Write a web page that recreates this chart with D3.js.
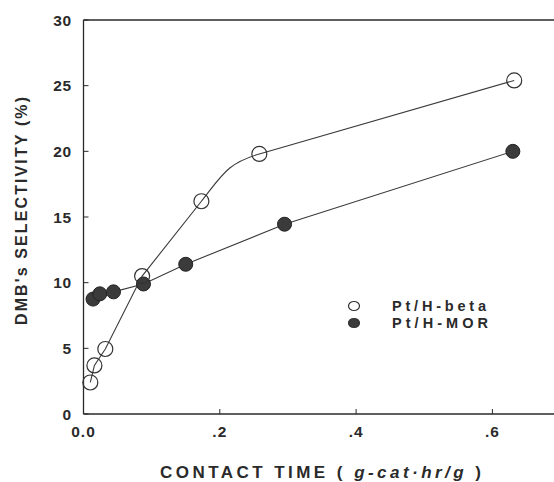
<!DOCTYPE html>
<html>
<head>
<meta charset="utf-8">
<script src="https://cdn.jsdelivr.net/npm/d3@7"></script>
<style>
  body { margin: 0; background: #fff; }
  svg { display: block; font-family: "Liberation Sans", Arial, sans-serif; }
</style>
</head>
<body>
<div id="chart"></div>
<script>
// Data
const betaTime = [0.010, 0.016, 0.032, 0.086, 0.173, 0.258, 0.632];
const betaSel  = [2.4, 3.7, 4.95, 10.5, 16.2, 19.8, 25.4];
const morTime  = [0.014, 0.024, 0.044, 0.088, 0.150, 0.295, 0.630];
const morSel   = [8.75, 9.15, 9.3, 9.9, 11.4, 14.45, 20.0];
const xTicks = [0, 0.2, 0.4, 0.6];
const xTickLabels = ['0.0', '.2', '.4', '.6'];
const yTicks = [0, 5, 10, 15, 20, 25, 30];
const seriesNames = ['Pt/H-beta', 'Pt/H-MOR'];

const width = 554, height = 482;
const margin = { top: 20, left: 83.5, bottom: 68 };

const svg = d3.select('#chart').append('svg')
    .attr('width', width)
    .attr('height', height);

const x = d3.scaleLinear().domain([0, 0.7]).range([margin.left, margin.left + 0.7 * 681.5]);
const y = d3.scaleLinear().domain([0, 30]).range([height - margin.bottom, margin.top]);

const ink = '#2a2a2a';

// frame: left, bottom, top
svg.append('line').attr('x1', x(0)).attr('x2', x(0)).attr('y1', y(0)).attr('y2', y(30))
    .attr('stroke', ink).attr('stroke-width', 1.3);
svg.append('line').attr('x1', x(0)).attr('x2', width).attr('y1', y(0)).attr('y2', y(0))
    .attr('stroke', ink).attr('stroke-width', 1.3);
svg.append('line').attr('x1', x(0)).attr('x2', width).attr('y1', y(30)).attr('y2', y(30))
    .attr('stroke', ink).attr('stroke-width', 1.3);

// y ticks (inward)
svg.selectAll('.ytick').data(yTicks).enter().append('line')
    .attr('x1', x(0)).attr('x2', x(0) + 5)
    .attr('y1', d => y(d)).attr('y2', d => y(d))
    .attr('stroke', ink).attr('stroke-width', 1);
svg.selectAll('.ylab').data(yTicks).enter().append('text')
    .attr('x', 72).attr('y', d => y(d) + 5.5)
    .attr('text-anchor', 'end')
    .attr('font-size', 15.5).attr('font-weight', 700).attr('fill', ink)
    .attr('letter-spacing', 0.8)
    .text(d => d);

// x ticks (inward)
svg.selectAll('.xtick').data(xTicks.slice(1)).enter().append('line')
    .attr('x1', d => x(d)).attr('x2', d => x(d))
    .attr('y1', y(0)).attr('y2', y(0) - 5)
    .attr('stroke', ink).attr('stroke-width', 1);
svg.selectAll('.xlab').data(xTicks).enter().append('text')
    .attr('x', d => x(d)).attr('y', 437)
    .attr('text-anchor', 'middle')
    .attr('font-size', 15.5).attr('font-weight', 700).attr('fill', ink)
    .attr('letter-spacing', 1)
    .text((d, i) => xTickLabels[i]);

// axis titles
const xt = svg.append('text')
    .attr('x', 160).attr('y', 478)
    .attr('font-size', 17).attr('font-weight', 700).attr('fill', ink)
    .attr('textLength', 321).attr('lengthAdjust', 'spacing');
xt.append('tspan').text('CONTACT  TIME ( ');
xt.append('tspan').attr('font-style', 'italic').text('g-cat\u00b7hr/g');
xt.append('tspan').text(' )');

svg.append('text')
    .attr('transform', 'translate(27,211) rotate(-90)')
    .attr('text-anchor', 'middle')
    .attr('font-size', 16).attr('font-weight', 700).attr('fill', ink)
    .attr('textLength', 228).attr('lengthAdjust', 'spacing')
    .text("DMB's  SELECTIVITY (%)");

const beta = betaTime.map((t, i) => [t, betaSel[i]]);
const mor = morTime.map((t, i) => [t, morSel[i]]);
const px = d => [x(d[0]), y(d[1])];

// beta: straight runs, with a rounded knee between the 5th and 6th points
const betaPath = d3.path();
const bp = beta.map(px);
betaPath.moveTo(bp[0][0], bp[0][1]);
for (let i = 1; i <= 4; i++) betaPath.lineTo(bp[i][0], bp[i][1]);
{
    const a = bp[4], b = bp[5];
    const inDir = [a[0] - bp[3][0], a[1] - bp[3][1]];
    const outDir = [bp[6][0] - b[0], bp[6][1] - b[1]];
    const seg = Math.hypot(b[0] - a[0], b[1] - a[1]);
    const nIn = Math.hypot(inDir[0], inDir[1]), nOut = Math.hypot(outDir[0], outDir[1]);
    const k = seg * 0.45;
    betaPath.bezierCurveTo(
        a[0] + inDir[0] / nIn * k, a[1] + inDir[1] / nIn * k,
        b[0] - outDir[0] / nOut * k, b[1] - outDir[1] / nOut * k,
        b[0], b[1]);
}
betaPath.lineTo(bp[6][0], bp[6][1]);

const straight = d3.line().x(d => x(d[0])).y(d => y(d[1]));

svg.append('path').attr('d', betaPath.toString());
svg.append('path').datum(mor).attr('d', straight);
svg.selectAll('path')
    .attr('fill', 'none')
    .attr('stroke', '#3a3a3a')
    .attr('stroke-width', 1.1);

// markers
svg.selectAll('.mor').data(mor).enter().append('circle')
    .attr('cx', d => x(d[0])).attr('cy', d => y(d[1])).attr('r', 7)
    .attr('fill', '#3b3b3b').attr('stroke', '#222').attr('stroke-width', 1);
svg.selectAll('.beta').data(beta).enter().append('circle')
    .attr('cx', d => x(d[0])).attr('cy', d => y(d[1])).attr('r', 7.5)
    .attr('fill', 'none').attr('stroke', '#333').attr('stroke-width', 1.2);

// legend
const legend = svg.append('g');
seriesNames.forEach((name, i) => {
    const ly = 306 + i * 17;
    legend.append('ellipse')
        .attr('cx', 354).attr('cy', ly).attr('rx', 5.5).attr('ry', 4.5)
        .attr('fill', i === 0 ? '#fff' : '#3b3b3b')
        .attr('stroke', '#333').attr('stroke-width', 1.2);
    legend.append('text')
        .attr('x', 392).attr('y', ly + 5)
        .attr('font-size', 14.5).attr('font-weight', 700).attr('fill', ink)
        .attr('textLength', i === 0 ? 94 : 96).attr('lengthAdjust', 'spacing')
        .text(name);
});
</script>
</body>
</html>
